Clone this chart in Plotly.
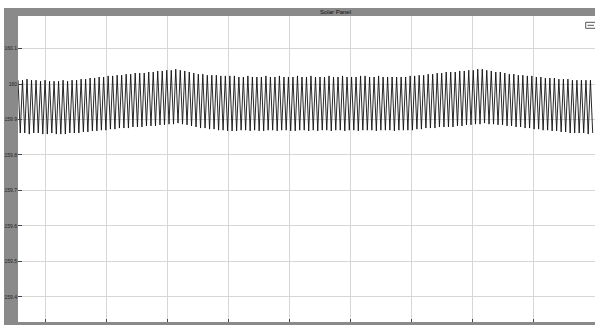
import numpy as np
import plotly.graph_objects as go

# --- data ---
title_text = "Solar Panel"
y_tick_vals = [160.1, 160.0, 159.9, 159.8, 159.7, 159.6, 159.5, 159.4]
y_tick_text = ["160.1", "160", "159.9", "159.8", "159.7", "159.6", "159.5", "159.4"]
x_grid_vals = [0.45, 1.45, 2.45, 3.45, 4.45, 5.45, 6.45, 7.45, 8.45]

# peaks (upper) and troughs (lower) of each oscillation cycle
upper = [
    160.011, 160.011, 160.014, 160.011, 160.011, 160.008, 160.011, 160.008,
    160.008, 160.008, 160.011, 160.008,
    160.011, 160.011, 160.014, 160.014, 160.017, 160.017, 160.020,
    160.020, 160.023, 160.023, 160.025, 160.025, 160.028, 160.028, 160.031, 160.031, 160.031, 160.034, 160.034,
    160.037, 160.037, 160.039, 160.039, 160.042,
    160.039, 160.037, 160.034, 160.031, 160.028,
    160.028, 160.025, 160.025, 160.025, 160.023, 160.023, 160.023,
    160.023, 160.020, 160.020, 160.023, 160.020, 160.020, 160.020, 160.023, 160.020, 160.020,
    160.023, 160.020, 160.020, 160.020, 160.023, 160.020, 160.020, 160.023, 160.020, 160.020,
    160.020, 160.023, 160.020, 160.020, 160.023, 160.020, 160.020, 160.020, 160.023, 160.023,
    160.020, 160.020, 160.023, 160.020, 160.020, 160.020, 160.020, 160.020,
    160.020, 160.023, 160.023, 160.025, 160.025, 160.028, 160.028, 160.031, 160.031, 160.034, 160.034,
    160.034, 160.037, 160.037, 160.039, 160.039, 160.042, 160.042,
    160.039, 160.037, 160.034, 160.034, 160.031, 160.028, 160.028, 160.025, 160.025,
    160.023, 160.023, 160.020, 160.020, 160.017, 160.017, 160.017, 160.014, 160.014,
    160.014, 160.011, 160.011, 160.011, 160.011, 160.011,
]
lower = [
    159.862, 159.862, 159.859, 159.862, 159.862, 159.859, 159.859, 159.862, 159.859, 159.859, 159.859, 159.862,
    159.862, 159.862, 159.865, 159.865, 159.868, 159.868, 159.870,
    159.870, 159.873, 159.873, 159.876, 159.876, 159.876, 159.879, 159.879, 159.879, 159.882, 159.882, 159.882,
    159.885, 159.885, 159.887, 159.887, 159.890,
    159.887, 159.885, 159.882, 159.879, 159.876,
    159.876, 159.873, 159.873, 159.870, 159.870, 159.868, 159.868,
    159.868, 159.870, 159.870, 159.868, 159.870, 159.868, 159.868, 159.870, 159.870, 159.868,
    159.870, 159.870, 159.868, 159.868, 159.870, 159.870, 159.868, 159.870, 159.868, 159.870,
    159.870, 159.868, 159.870, 159.870, 159.868, 159.870, 159.870, 159.868, 159.870, 159.870,
    159.870, 159.868, 159.870, 159.870, 159.870, 159.868, 159.870, 159.870,
    159.870, 159.870, 159.873, 159.873, 159.876, 159.876, 159.876, 159.879, 159.879, 159.879, 159.879,
    159.882, 159.882, 159.885, 159.885, 159.887, 159.887, 159.890,
    159.887, 159.887, 159.885, 159.885, 159.882, 159.882, 159.879, 159.879, 159.876,
    159.876, 159.873, 159.873, 159.870, 159.870, 159.868, 159.868, 159.865, 159.865,
    159.862, 159.862, 159.862, 159.862, 159.859, 159.862,
]

half_period = 0.03695  # time between a peak and the next trough
x_range = [0.0, 9.46]
y_range = [159.329, 160.192]

# --- build the zig-zag from the peak/trough lists ---
n = min(len(upper), len(lower))
values = []
for i in range(n):
    values.append(upper[i])
    values.append(lower[i])
t = np.arange(len(values)) * half_period

# page offset of the figure (white strip on top/left of the scope window)
OFF_X, OFF_Y = 4, 8
W, H = 595 - OFF_X, 325 - OFF_Y
ml, mr, mt, mb = 18 - OFF_X, 0, 16 - OFF_Y, 3
pw, ph = W - ml - mr, H - mt - mb

def px_x(p):  # page pixel -> paper x
    return (p - OFF_X - ml) / pw

def px_y(p):  # page pixel -> paper y
    return (H - mb - (p - OFF_Y)) / ph

fig = go.Figure()
fig.add_trace(go.Scatter(
    x=t, y=values, mode="lines",
    line=dict(color="#111111", width=0.9),
    hoverinfo="skip", showlegend=False,
))

shapes = [
    # legend icon
    dict(type="rect", xref="paper", yref="paper", layer="above",
         x0=px_x(585.7), x1=px_x(596), y0=px_y(28.3), y1=px_y(22.3),
         fillcolor="white", line=dict(color="#555555", width=1)),
    dict(type="line", xref="paper", yref="paper", layer="above",
         x0=px_x(587.5), x1=px_x(594), y0=px_y(25.3), y1=px_y(25.3),
         line=dict(color="#555555", width=1)),
]

fig.update_layout(
    width=W, height=H, autosize=False,
    margin=dict(l=ml, r=mr, t=mt, b=mb, pad=0),
    paper_bgcolor="#8a8a8a", plot_bgcolor="white",
    font=dict(family="Liberation Sans, Arial, sans-serif", size=5, color="#222222"),
    shapes=shapes,
    annotations=[dict(
        text=title_text, xref="paper", yref="paper",
        x=px_x(335), y=px_y(11.5), xanchor="center", yanchor="middle",
        showarrow=False, font=dict(size=6, color="#111111"),
    )],
    xaxis=dict(
        range=x_range, showticklabels=False,
        tickvals=x_grid_vals, ticks="inside", ticklen=3, tickcolor="#444444",
        showgrid=True, gridcolor="#d6d6d6", gridwidth=1,
        zeroline=False, showline=False,
    ),
    yaxis=dict(
        range=y_range,
        tickvals=y_tick_vals, ticktext=y_tick_text,
        ticks="inside", ticklen=4, tickcolor="#444444",
        tickfont=dict(size=5, color="#222222"),
        showgrid=True, gridcolor="#d6d6d6", gridwidth=1,
        zeroline=False, showline=False,
    ),
)

post = ("document.body.style.margin='%dpx 0 0 %dpx';"
        "document.body.style.overflow='hidden';" % (OFF_Y, OFF_X))
fig.write_html("out.html", post_script=post)
